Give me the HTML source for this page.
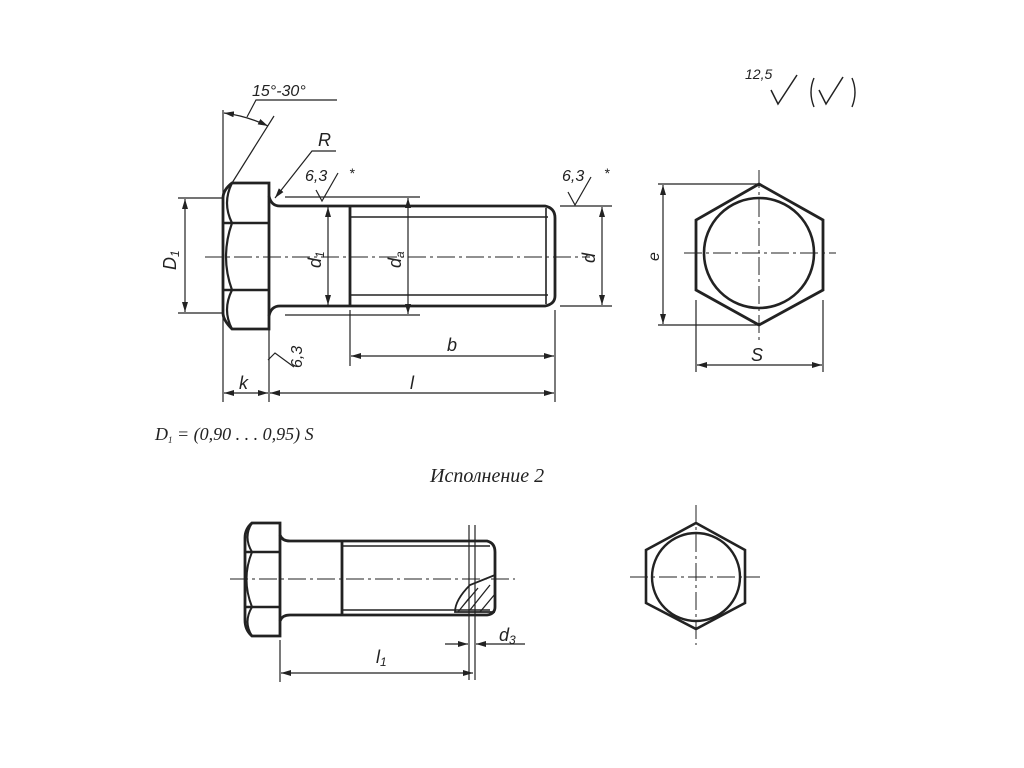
<!DOCTYPE html>
<html><head><meta charset="utf-8"><style>
html,body{margin:0;padding:0;background:#fff;width:1024px;height:768px;overflow:hidden}
svg{display:block}
.t{font-family:"Liberation Sans",sans-serif;font-style:italic;fill:#222}
.s{font-family:"Liberation Serif",serif;font-style:italic;fill:#222}
</style></head><body>
<svg width="1024" height="768" viewBox="0 0 1024 768" xmlns="http://www.w3.org/2000/svg">
<defs>
<marker id="a" viewBox="0 0 10 6" refX="10" refY="3" markerWidth="10" markerHeight="6" orient="auto-start-reverse" markerUnits="userSpaceOnUse"><path d="M0,0 L10,3 L0,6 z" fill="#222"/></marker>
</defs>
<g stroke="#222" fill="none">
<path d="M232,183 H269 V329 H232 Q223,320 223,313 V198 Q223,190 232,183 Z" stroke-width="2.8"/>
<path d="M223,223 H269 M223,290 H269" stroke-width="2.6"/>
<path d="M232,183 Q222,203 232,223 M232,223 Q220,257 232,290 M232,290 Q222,310 232,329" stroke-width="2.2"/>
<path d="M269,196 Q271,206 280,206 H545 Q555,208 555,218 V296 Q555,304 545,306 H280 Q271,306 269,316" stroke-width="2.8"/>
<path d="M350,206 V306" stroke-width="2.8"/>
<path d="M350,217 H548 M350,295 H548" stroke-width="1.6"/>
<path d="M546,208 V304" stroke-width="1.6"/>
<path d="M205,257 H590" stroke-width="1" stroke-dasharray="18,4,3,4"/>
<g stroke-width="1.2">
<path d="M223,110 V402 M269,330 V402 M350,310 V366 M555,310 V402"/>
<path d="M178,198 H223 M178,313 H223"/>
<path d="M285,197 H420 M285,315 H420"/>
<path d="M560,206 H612 M560,306 H612"/>
<path d="M185,199 V312" marker-start="url(#a)" marker-end="url(#a)"/>
<path d="M328,207 V305" marker-start="url(#a)" marker-end="url(#a)"/>
<path d="M408,198 V314" marker-start="url(#a)" marker-end="url(#a)"/>
<path d="M602,207 V305" marker-start="url(#a)" marker-end="url(#a)"/>
<path d="M351,356 H554" marker-start="url(#a)" marker-end="url(#a)"/>
<path d="M270,393 H554" marker-start="url(#a)" marker-end="url(#a)"/>
<path d="M224,393 H268" marker-start="url(#a)" marker-end="url(#a)"/>
<path d="M232,183 L274,116"/>
<path d="M224,113 Q247,116 268,126" marker-start="url(#a)" marker-end="url(#a)"/>
<path d="M247,117 L256,100 H337"/>
<path d="M275,198 L312,151 H336" marker-start="url(#a)"/>
<path d="M316,190 L322,201 L338,173"/>
<path d="M568,192 L575,205 L591,177"/>
<path d="M268,360 L275,353 L294,367"/>
<path d="M658,184 H759 M658,325 H759" />
<path d="M663,185 V324" marker-start="url(#a)" marker-end="url(#a)"/>
<path d="M696,300 V372 M823,300 V372"/>
<path d="M697,365 H822" marker-start="url(#a)" marker-end="url(#a)"/>
<path d="M771,90 L778,104 L797,75" stroke-width="1.5"/>
<path d="M819,90 L826,104 L843,77" stroke-width="1.5"/>
</g>
<path d="M759,184 L823,220 V290 L759,325 L696,290 V220 Z" stroke-width="2.8"/>
<circle cx="759" cy="253" r="55" stroke-width="2.6"/>
<path d="M759,170 V340" stroke-width="1" stroke-dasharray="18,4,3,4"/>
<path d="M684,253 H836" stroke-width="1" stroke-dasharray="18,4,3,4"/>
<path d="M814,78 Q808,92 814,107 M852,78 Q858,92 852,107" stroke-width="1.4"/>

<path d="M252,523 H280 V636 H252 Q245,630 245,620 V538 Q245,529 252,523 Z" stroke-width="2.8"/>
<path d="M245,552 H280 M245,607 H280" stroke-width="2.4"/>
<path d="M252,523 Q243,537 252,552 M252,552 Q241,579 252,607 M252,607 Q243,622 252,636" stroke-width="2"/>
<path d="M280,535 Q282,541 290,541 H487 Q495,543 495,552 V607 Q495,614 487,615 H290 Q282,615 280,621" stroke-width="2.8"/>
<path d="M342,541 V615" stroke-width="2.8"/>
<path d="M342,546 H490 M342,610 H490" stroke-width="1.4"/>
<path d="M230,579 H515" stroke-width="1" stroke-dasharray="18,4,3,4"/>
<path d="M495,575 L470,585 Q455,600 455,612 H495" stroke-width="1.8"/>
<path d="M462,607 L478,588 M470,610 L490,585 M480,612 L495,594 M458,612 L470,597" stroke-width="1.3"/>
<g stroke-width="1.2">
<path d="M469,525 V680 M475,525 V680 M280,640 V682"/>
<path d="M281,673 H473" marker-start="url(#a)" marker-end="url(#a)"/>
<path d="M445,644 H468" marker-end="url(#a)"/>
<path d="M525,644 H476" marker-end="url(#a)"/>
</g>
<path d="M696,523 L745,550 V603 L696,629 L646,603 V550 Z" stroke-width="2.6"/>
<circle cx="696" cy="577" r="44" stroke-width="2.4"/>
<path d="M696,505 V645" stroke-width="1" stroke-dasharray="18,4,3,4"/>
<path d="M630,577 H760" stroke-width="1" stroke-dasharray="18,4,3,4"/>
</g>
<text class="t" x="252" y="96" font-size="16">15°-30°</text>
<text class="t" x="318" y="146" font-size="18">R</text>
<text class="t" x="305" y="181" font-size="16">6,3</text>
<text class="t" x="349" y="178" font-size="14">*</text>
<text class="t" x="562" y="181" font-size="16">6,3</text>
<text class="t" x="604" y="178" font-size="14">*</text>
<text class="t" x="447" y="351" font-size="18">b</text>
<text class="t" x="410" y="389" font-size="18">l</text>
<text class="t" x="239" y="389" font-size="18">k</text>
<text class="t" font-size="16" transform="translate(302,368) rotate(-90)">6,3</text>
<text class="t" font-size="18" transform="translate(176,270) rotate(-90)">D<tspan font-size="12" dy="3">1</tspan></text>
<text class="t" font-size="18" transform="translate(321,268) rotate(-90)">d<tspan font-size="12" dy="3">1</tspan></text>
<text class="t" font-size="18" transform="translate(401,268) rotate(-90)">d<tspan font-size="12" dy="3">a</tspan></text>
<text class="t" font-size="18" transform="translate(595,263) rotate(-90)">d</text>
<text class="t" font-size="16" transform="translate(659,261) rotate(-90)">e</text>
<text class="t" x="751" y="361" font-size="18">S</text>
<text class="t" x="745" y="79" font-size="14">12,5</text>
<text class="t" x="376" y="663" font-size="18">l<tspan font-size="12" dy="3">1</tspan></text>
<text class="t" x="499" y="641" font-size="18">d<tspan font-size="12" dy="3">3</tspan></text>
<text class="s" x="155" y="440" font-size="18">D<tspan font-size="9" dy="3">1</tspan><tspan dy="-3"> = (0,90 . . . 0,95) S</tspan></text>
<text class="s" x="430" y="482" font-size="20">Исполнение 2</text>
</svg>
</body></html>
